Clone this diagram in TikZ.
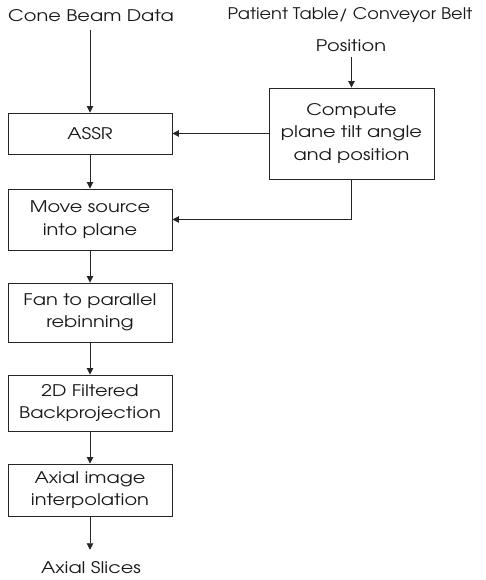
\documentclass[tikz,border=0pt]{standalone}
\usepackage{fontspec}
\setmainfont{TeX Gyre Adventor}[FakeStretch=1.21]
\newfontfamily\narrowfont{TeX Gyre Adventor}[FakeStretch=1.11]
\usetikzlibrary{arrows.meta}
\begin{document}
\begin{tikzpicture}[x=1pt,y=-1pt,
  every node/.style={font=\fontsize{16}{22.5}\selectfont, text=black!90},
  blk/.style={draw=black!85, line width=0.9pt, align=center, inner sep=0pt},
  lbl/.style={inner sep=0pt, anchor=base},
  arr/.style={draw=black!85, line width=0.9pt, -{Triangle[length=6.5pt,width=6.5pt]}}]
\useasboundingbox (0,0) rectangle (486,580);
\node[lbl] (cbd) at (91,22) {Cone Beam Data};
\node[lbl, font=\narrowfont\fontsize{16}{20}\selectfont] (ptb) at (350,20) {Patient Table/ Conveyor Belt};
\node[lbl] (pos) at (351,52) {Position};
\node[blk, minimum width=164pt, minimum height=41pt] (assr) at (90,133.5) {ASSR};
\node[blk, minimum width=164pt, minimum height=61pt] (move) at (90,219.5) {Move source\\into plane};
\node[blk, minimum width=164pt, minimum height=59pt] (fan) at (90,312.5) {Fan to parallel\\rebinning};
\node[blk, minimum width=164pt, minimum height=56pt] (fbp) at (90,403) {2D Filtered\\Backprojection};
\node[blk, minimum width=164pt, minimum height=52pt] (axi) at (90,490) {Axial image\\interpolation};
\node[lbl] (sl) at (91,573) {Axial Slices};
\node[blk, minimum width=165pt, minimum height=91pt] (comp) at (351.5,133.5) {Compute\\plane tilt angle\\and position};
\draw[arr] (cbd.south -| assr.north) ++(0,8) -- (assr.north);
\draw[arr] (assr) -- (move);
\draw[arr] (move) -- (fan);
\draw[arr] (fan) -- (fbp);
\draw[arr] (fbp) -- (axi);
\draw[arr] (axi.south) -- ([yshift=11pt]sl.north -| axi.south);
\draw[arr] (pos.south -| comp.north) ++(0,5) -- (comp.north);
\draw[arr] (comp.west) -- (assr.east);
\draw[arr] (comp.south) |- (move.east);
\end{tikzpicture}
\end{document}
